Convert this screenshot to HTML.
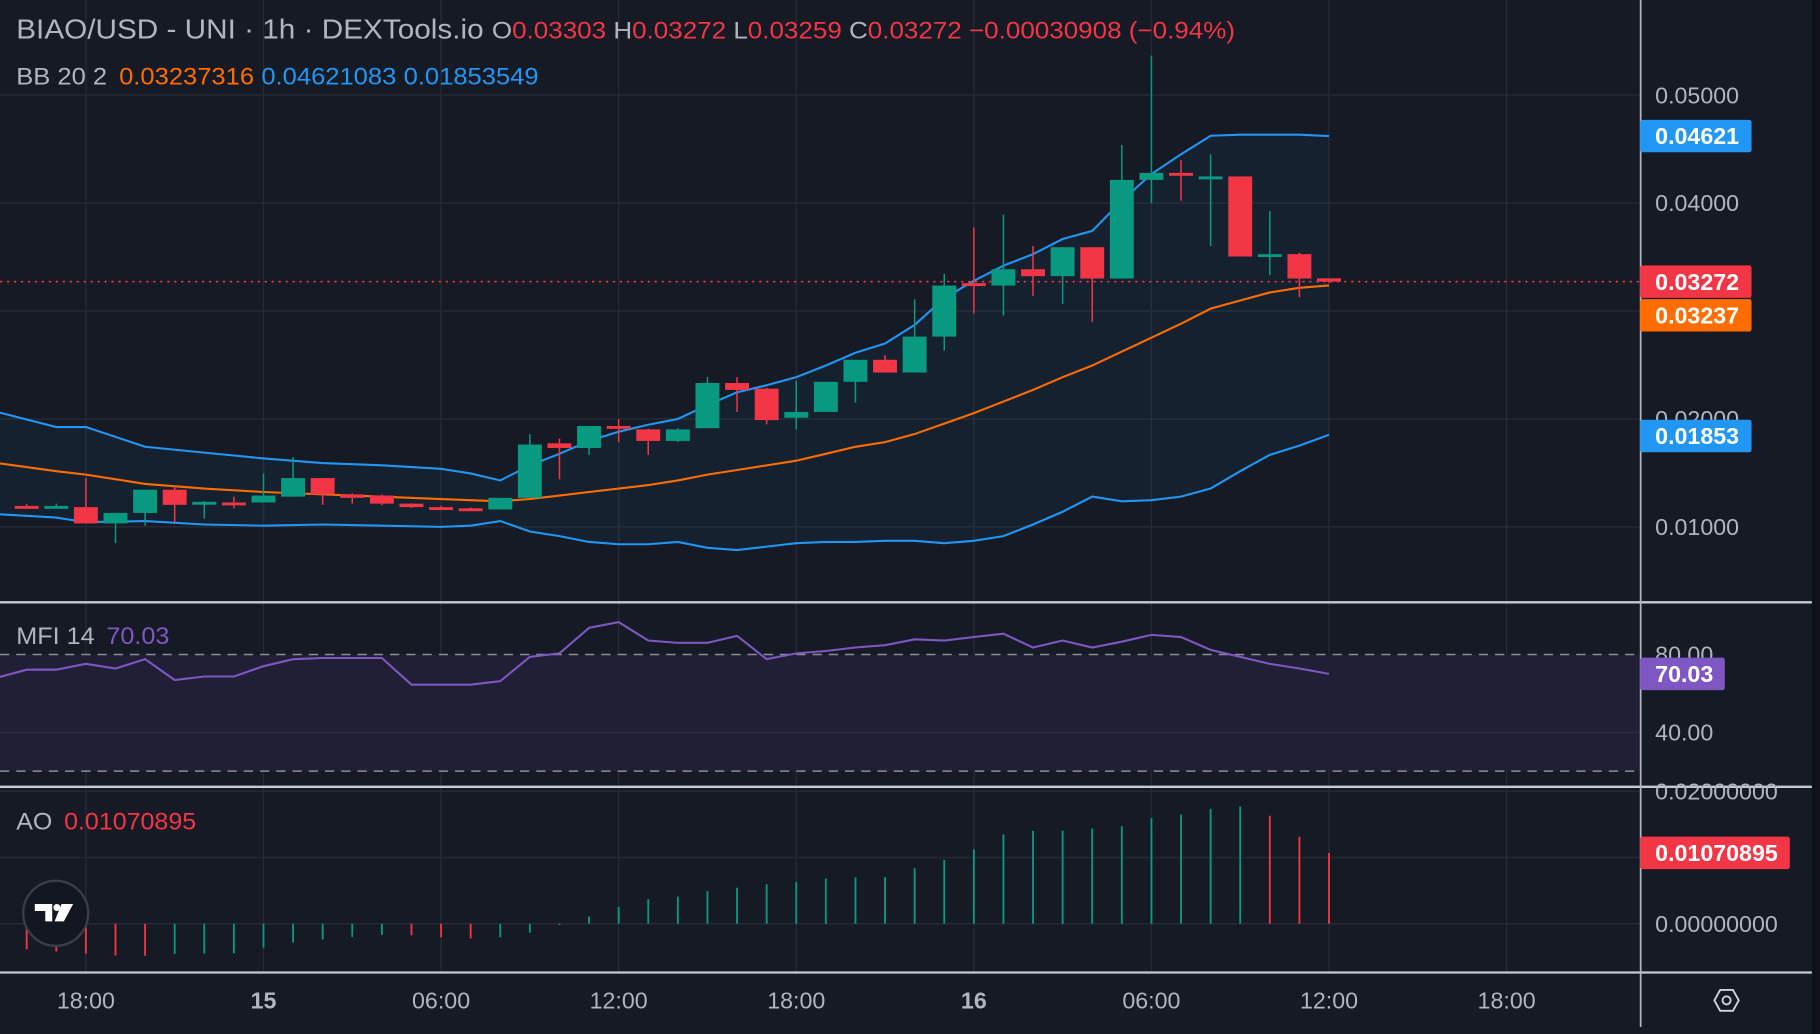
<!DOCTYPE html>
<html><head><meta charset="utf-8">
<style>
html,body{margin:0;padding:0;background:#161a25;overflow:hidden}
svg{display:block}
text{font-family:"Liberation Sans","DejaVu Sans",sans-serif}
</style></head>
<body>
<svg id="chart" width="1820" height="1034" viewBox="0 0 1568 891" preserveAspectRatio="none" xmlns="http://www.w3.org/2000/svg">
<rect x="0" y="0" width="1568" height="891" fill="#161a25"/>
<rect x="1561" y="0" width="7" height="891" fill="#0f1219"/>
<g id="grid"></g>
<g id="bands"></g>
<g id="candles"></g>
<g id="mfi"></g>
<g id="ao"></g>
<g id="axes"></g>
<g>
<text x="14" y="33" font-size="24" fill="#b2b5be" textLength="1050" lengthAdjust="spacingAndGlyphs">BIAO/USD - UNI · 1h · DEXTools.io <tspan fill="#b2b5be" font-size="21">O</tspan><tspan fill="#f23645" font-size="21">0.03303 </tspan><tspan fill="#b2b5be" font-size="21">H</tspan><tspan fill="#f23645" font-size="21">0.03272 </tspan><tspan fill="#b2b5be" font-size="21">L</tspan><tspan fill="#f23645" font-size="21">0.03259 </tspan><tspan fill="#b2b5be" font-size="21">C</tspan><tspan fill="#f23645" font-size="21">0.03272 −0.00030908 (−0.94%)</tspan></text>
<text x="14" y="73" font-size="21" fill="#b2b5be" textLength="450" lengthAdjust="spacingAndGlyphs">BB 20 2 <tspan fill="#ff6d00" dx="4">0.03237316</tspan><tspan fill="#2196f3" dx="6">0.04621083</tspan><tspan fill="#2196f3" dx="6">0.01853549</tspan></text>
<text x="14" y="555" font-size="21" fill="#b2b5be" textLength="132" lengthAdjust="spacingAndGlyphs">MFI 14 <tspan fill="#7e57c2" dx="4">70.03</tspan></text>
<text x="14" y="715" font-size="21" fill="#b2b5be" textLength="155" lengthAdjust="spacingAndGlyphs">AO <tspan fill="#f23645" dx="4">0.01070895</tspan></text>
</g>
<g>
<circle cx="48" cy="787" r="28" fill="#131722" stroke="#3a3e4a" stroke-width="2"/>
<path d="M30 779 h15 v15 h-6 v-9 h-9 z M53 779 h10 l-8 15 h-8 z" fill="#ffffff"/>
<circle cx="49" cy="782" r="3" fill="#ffffff"/>
</g>
</svg>
<script>
// ---- data ----
const candleOpen  = [0.01194,0.01194,0.01183,0.01032,0.01129,0.01344,0.01226,0.01226,0.01226,0.01280,0.01452,0.01301,0.01290,0.01215,0.01183,0.01172,0.01161,0.01269,0.01774,0.01731,0.01935,0.01903,0.01796,0.01914,0.02333,0.02280,0.02011,0.02065,0.02344,0.02548,0.02430,0.02763,0.03258,0.03236,0.03387,0.03323,0.03591,0.03301,0.04215,0.04280,0.04247,0.04247,0.03527,0.03527,0.03303];
const candleClose = [0.01190,0.01194,0.01032,0.01129,0.01344,0.01204,0.01232,0.01220,0.01290,0.01452,0.01301,0.01269,0.01215,0.01183,0.01178,0.01167,0.01269,0.01763,0.01731,0.01935,0.01915,0.01796,0.01903,0.02333,0.02269,0.01989,0.02065,0.02344,0.02548,0.02430,0.02763,0.03236,0.03250,0.03387,0.03323,0.03591,0.03301,0.04215,0.04280,0.04258,0.04247,0.03505,0.03527,0.03301,0.03272];
const candleHigh  = [0.01210,0.01215,0.01452,0.01129,0.01344,0.01376,0.01240,0.01280,0.01495,0.01645,0.01452,0.01310,0.01300,0.01220,0.01195,0.01180,0.01269,0.01860,0.01817,0.01935,0.02000,0.01910,0.01914,0.02387,0.02387,0.02290,0.02355,0.02344,0.02548,0.02591,0.03108,0.03344,0.03774,0.03892,0.03602,0.03591,0.03591,0.04538,0.05366,0.04398,0.04452,0.04247,0.03925,0.03540,0.03303];
const candleLow   = [0.01180,0.01185,0.01032,0.00849,0.01011,0.01043,0.01075,0.01172,0.01226,0.01280,0.01204,0.01215,0.01200,0.01175,0.01170,0.01160,0.01161,0.01269,0.01441,0.01667,0.01785,0.01667,0.01785,0.01914,0.02065,0.01950,0.01903,0.02065,0.02150,0.02430,0.02430,0.02634,0.02978,0.02957,0.03140,0.03065,0.02900,0.03301,0.04000,0.04022,0.03602,0.03505,0.03333,0.03129,0.03259];
const bbIndex  = [-1,1,2,4,6,8,10,12,14,15,16,17,18,19,20,21,22,23,24,25,26,27,28,29,30,31,32,33,34,35,36,37,38,39,40,41,42,43,44];
const bbUpper  = [0.02065,0.01925,0.01925,0.01742,0.01688,0.01634,0.01591,0.01570,0.01538,0.01495,0.01430,0.01570,0.01677,0.01796,0.01882,0.01946,0.02000,0.02129,0.02247,0.02312,0.02387,0.02495,0.02613,0.02699,0.02871,0.03118,0.03280,0.03420,0.03527,0.03667,0.03742,0.04022,0.04269,0.04452,0.04624,0.04634,0.04634,0.04634,0.04621];
const bbMiddle = [0.01591,0.01516,0.01484,0.01398,0.01355,0.01323,0.01301,0.01280,0.01258,0.01247,0.01237,0.01258,0.01290,0.01323,0.01355,0.01387,0.01430,0.01484,0.01527,0.01570,0.01613,0.01677,0.01742,0.01785,0.01860,0.01957,0.02054,0.02161,0.02269,0.02387,0.02495,0.02624,0.02753,0.02882,0.03022,0.03097,0.03172,0.03215,0.03237];
const bbLower  = [0.01118,0.01086,0.01043,0.01054,0.01022,0.01011,0.01022,0.01011,0.01000,0.01011,0.01054,0.00957,0.00914,0.00860,0.00839,0.00839,0.00860,0.00806,0.00785,0.00817,0.00849,0.00860,0.00860,0.00871,0.00871,0.00849,0.00871,0.00914,0.01022,0.01140,0.01280,0.01237,0.01247,0.01280,0.01355,0.01516,0.01667,0.01753,0.01853];
const mfiValues = [68.1,72.2,72.2,75.2,72.8,77.6,66.9,68.7,68.7,74.0,77.6,78.2,78.2,78.2,64.5,64.5,64.5,66.3,78.8,80.6,93.7,96.7,87.2,86.0,86.0,89.6,77.6,80.6,81.8,83.6,84.8,87.8,87.2,89.0,90.7,83.6,87.2,83.6,86.6,90.1,89.0,82.4,78.8,75.2,72.8,70.03];
const aoValues = [-0.00386,-0.00421,-0.00451,-0.00481,-0.00483,-0.00456,-0.00451,-0.00447,-0.00363,-0.00284,-0.00237,-0.00198,-0.00168,-0.00174,-0.00204,-0.00221,-0.00204,-0.00133,-0.00018,0.00110,0.00254,0.00370,0.00410,0.00491,0.00544,0.00596,0.00632,0.00684,0.00702,0.00705,0.00842,0.00965,0.01123,0.01351,0.01404,0.01406,0.01439,0.01474,0.01596,0.01649,0.01737,0.01772,0.01632,0.01316,0.01071];
const priceTicks = [0.05,0.04,0.03,0.02,0.01];
const priceTickLabels = ["0.05000","0.04000","0.03000","0.02000","0.01000"];
const timeTickIndex = [2,8,14,20,26,32,38,44,50];
const timeTickLabels = ["18:00","15","06:00","12:00","18:00","16","06:00","12:00","18:00"];
const timeTickBold = [false,true,false,false,false,true,false,false,false];
const mfiTicks = [80,40];
const mfiTickLabels = ["80.00","40.00"];
const aoTicks = [0.02,0.01,0];
const aoTickLabels = ["0.02000000","","0.00000000"];
const lastPrice = 0.03272, bbMidLast = 0.03237, bbUpLast = 0.04621, bbLowLast = 0.01853, mfiLast = 70.03, aoLast = 0.01070895;

// ---- scales (display coordinates, viewBox 1568x891) ----
const NS = "http://www.w3.org/2000/svg";
const xAt = i => 23 + 25.5 * i;
const yP = p => 82 + (0.05 - p) * 9300;
const yM = v => 564 + (80 - v) * 1.675;
const yA = v => 796 - v * 5700;
const GREEN = "#089981", RED = "#f23645";
function mk(tag, attrs, parent) {
  const e = document.createElementNS(NS, tag);
  for (const k in attrs) e.setAttribute(k, attrs[k]);
  parent.appendChild(e);
  return e;
}
const grid = document.getElementById("grid");
const bands = document.getElementById("bands");
const cg = document.getElementById("candles");
const mg = document.getElementById("mfi");
const ag = document.getElementById("ao");
const axg = document.getElementById("axes");

// grid
timeTickIndex.forEach((ti, k) => {
  const l = mk("line", {x1: xAt(ti), x2: xAt(ti), y1: 0, y2: 838, stroke: "#262a35", "stroke-width": 1.2}, grid);
  
  
});
priceTicks.forEach(p => {
  const l = mk("line", {x1: 0, x2: 1413, y1: yP(p), y2: yP(p), stroke: "#262a35", "stroke-width": 1.2}, grid);
  
  
});
aoTicks.forEach(v => {
  const l = mk("line", {x1: 0, x2: 1413, y1: yA(v), y2: yA(v), stroke: "#262a35", "stroke-width": 1.2}, grid);
  
  
});

// bollinger bands
const up = bbIndex.map((i, k) => [xAt(i), yP(bbUpper[k])]);
const lo = bbIndex.map((i, k) => [xAt(i), yP(bbLower[k])]);
const md = bbIndex.map((i, k) => [xAt(i), yP(bbMiddle[k])]);
const fill = mk("polygon", {points: up.concat(lo.slice().reverse()).map(p => p.join(",")).join(" "), fill: "rgba(33,150,243,0.06)"}, bands);


[[up, "#2196f3", "bb-upper-line"], [lo, "#2196f3", "bb-lower-line"], [md, "#ff6d00", "bb-basis-line"]].forEach(([pts, c, n]) => {
  const pl = mk("polyline", {points: pts.map(p => p.join(",")).join(" "), fill: "none", stroke: c, "stroke-width": 1.8}, bands);
  
  
});

// last price line
const lp = mk("line", {x1: 0, x2: 1413, y1: yP(lastPrice), y2: yP(lastPrice), stroke: RED, "stroke-width": 1.3, "stroke-dasharray": "2 4"}, cg);



// candles
candleOpen.forEach((o, i) => {
  const c = candleClose[i];
  const col = c >= o ? GREEN : RED;
  const g = mk("g", {}, cg);
  
  
  const x = xAt(i);
  mk("line", {x1: x, x2: x, y1: yP(candleHigh[i]), y2: yP(candleLow[i]), stroke: col, "stroke-width": 1.3}, g);
  const t = Math.min(yP(o), yP(c)), h = Math.max(2.5, Math.abs(yP(o) - yP(c)));
  mk("rect", {x: x - 10.3, y: t, width: 20.6, height: h, fill: col}, g);
});

// MFI pane
const band = mk("rect", {x: 0, y: yM(80), width: 1413, height: yM(20) - yM(80), fill: "#201f35"}, mg);


const g40 = mk("line", {x1: 0, x2: 1413, y1: yM(40), y2: yM(40), stroke: "#2f2d45", "stroke-width": 1.2}, mg);


[80, 20].forEach(v => {
  const d = mk("line", {x1: 0, x2: 1413, y1: yM(v), y2: yM(v), stroke: "#8a8d96", "stroke-width": 1.3, "stroke-dasharray": "8 6"}, mg);
  
  
});
const mline = mk("polyline", {points: mfiValues.map((v, k) => xAt(k - 1) + "," + yM(v)).join(" "), fill: "none", stroke: "#7e57c2", "stroke-width": 1.8}, mg);



// AO pane
aoValues.forEach((v, i) => {
  const col = i === 0 ? RED : (v >= aoValues[i - 1] ? GREEN : RED);
  const b = mk("rect", {x: xAt(i) - 0.8, y: Math.min(yA(v), yA(0)), width: 1.6, height: Math.max(1, Math.abs(yA(v) - yA(0))), fill: col}, ag);
  
  
});

// separators & axis line
[[519, "pane-separator"], [678, "pane-separator"], [838, "time-axis-separator"]].forEach(([y, n]) => {
  const s = mk("line", {x1: 0, x2: 1561, y1: y, y2: y, stroke: "#c8cad1", "stroke-width": 2}, axg);
  
  
});
const va = mk("line", {x1: 1413.5, x2: 1413.5, y1: 0, y2: 885, stroke: "#b2b5be", "stroke-width": 1.5}, axg);



function label(x, y, txt, size, col, weight, name, anchor) {
  const t = mk("text", {x: x, y: y, "font-size": size, fill: col, "font-weight": weight || "normal", "text-anchor": anchor || "start"}, axg);
  t.textContent = txt;
  
  
  return t;
}
priceTicks.forEach((p, k) => label(1426, yP(p) + 7, priceTickLabels[k], 20, "#b2b5be", "normal", "price-tick-label"));
mfiTicks.forEach((v, k) => label(1426, yM(v) + 7, mfiTickLabels[k], 20, "#b2b5be", "normal", "mfi-tick-label"));
aoTicks.forEach((v, k) => { if (aoTickLabels[k]) label(1426, yA(v) + 7, aoTickLabels[k], 20, "#b2b5be", "normal", "ao-tick-label"); });
timeTickIndex.forEach((ti, k) => label(xAt(ti), 869, timeTickLabels[k], 20, "#b2b5be", timeTickBold[k] ? "bold" : "normal", "time-tick-label", "middle"));

function badge(y, txt, col, w, name) {
  const g = mk("g", {}, axg);
  
  
  mk("rect", {x: 1413, y: y - 14, width: w, height: 28, rx: 2, fill: col}, g);
  const t = mk("text", {x: 1426, y: y + 7, "font-size": 20, fill: "#ffffff", "font-weight": "bold"}, g);
  t.textContent = txt;
}
badge(yP(bbUpLast), "0.04621", "#2196f3", 96, "bb-upper-badge");
badge(yP(lastPrice), "0.03272", RED, 96, "last-price-badge");
badge(yP(lastPrice) + 29, "0.03237", "#ff6d00", 96, "bb-basis-badge");
badge(yP(bbLowLast) + 1, "0.01853", "#2196f3", 96, "bb-lower-badge");
badge(yM(mfiLast), "70.03", "#7e57c2", 73, "mfi-badge");
badge(yA(aoLast), "0.01070895", RED, 129, "ao-badge");

// settings icon
const gear = mk("polygon", {points: "1477,862 1482,853 1493,853 1498,862 1493,871 1482,871", fill: "none", stroke: "#d1d4dc", "stroke-width": 1.6}, axg);


mk("circle", {cx: 1487.5, cy: 862, r: 3.5, fill: "none", stroke: "#d1d4dc", "stroke-width": 1.6}, axg);
</script>
</body></html>
